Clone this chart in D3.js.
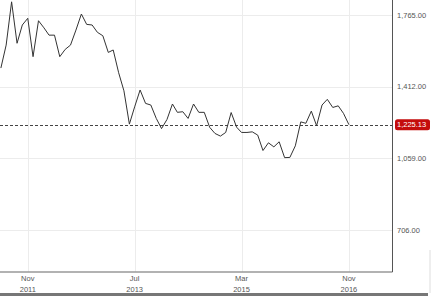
<!DOCTYPE html>
<html>
<head>
<meta charset="utf-8">
<script src="https://cdn.jsdelivr.net/npm/d3@7"></script>
<style>
body { margin:0; background:#fff; }
svg { display:block; }
text { font-family: "Liberation Sans", Arial, sans-serif; }
</style>
</head>
<body>
<div id="chart"></div>
<script>
var parseMonth = d3.timeParse("%Y-%m");

var months = ["2011-06","2011-07","2011-08","2011-09","2011-10","2011-11","2011-12",
              "2012-01","2012-02","2012-03","2012-04","2012-05","2012-06","2012-07","2012-08","2012-09","2012-10","2012-11","2012-12",
              "2013-01","2013-02","2013-03","2013-04","2013-05","2013-06","2013-07","2013-08","2013-09","2013-10","2013-11","2013-12",
              "2014-01","2014-02","2014-03","2014-04","2014-05","2014-06","2014-07","2014-08","2014-09","2014-10","2014-11","2014-12",
              "2015-01","2015-02","2015-03","2015-04","2015-05","2015-06","2015-07","2015-08","2015-09","2015-10","2015-11","2015-12",
              "2016-01","2016-02","2016-03","2016-04","2016-05","2016-06","2016-07","2016-08","2016-09","2016-10","2016-11"];

var closes = [1504,1617,1830,1626,1716,1749,1560,
              1737,1702,1666,1666,1560,1596,1617,1691,1770,1719,1716,1680,
              1663,1581,1593,1481,1392,1228,1313,1396,1330,1322,1256,1206,
              1251,1327,1286,1289,1256,1327,1286,1286,1212,1182,1169,1187,
              1285,1213,1187,1187,1190,1174,1098,1136,1116,1141,1063,1064,
              1121,1239,1232,1292,1220,1322,1350,1310,1318,1281,1225.13];

var lastValue = 1225.13;

var yTicks = [706, 1059, 1412, 1765];
var xTicks = ["2011-11","2013-07","2015-03","2016-11"];

var totalW = 431, totalH = 297;
var plotW = 392, plotH = 272;

var svg = d3.select("#chart").append("svg").attr("width", totalW).attr("height", totalH);

var x = d3.scaleTime().domain([new Date(2011, 4, 27), new Date(2017, 6, 4)]).range([0, plotW]);
var y = d3.scaleLinear().domain([500, 1839]).range([plotH, 0]);

var data = months.map(function(m, i){ return {date: parseMonth(m), value: closes[i]}; });

// grid
svg.append("g").selectAll("line").data(yTicks).enter().append("line")
    .attr("x1", 0).attr("x2", plotW)
    .attr("y1", function(d){ return Math.round(y(d)) + 0.5; })
    .attr("y2", function(d){ return Math.round(y(d)) + 0.5; })
    .attr("stroke", "#ececec").attr("stroke-width", 1);

svg.append("g").selectAll("line").data(xTicks).enter().append("line")
    .attr("x1", function(d){ return Math.round(x(parseMonth(d))) + 0.5; })
    .attr("x2", function(d){ return Math.round(x(parseMonth(d))) + 0.5; })
    .attr("y1", 0).attr("y2", plotH)
    .attr("stroke", "#ececec").attr("stroke-width", 1);

// last value dashed line
svg.append("line")
    .attr("x1", 0).attr("x2", plotW)
    .attr("y1", Math.round(y(lastValue)) + 0.5).attr("y2", Math.round(y(lastValue)) + 0.5)
    .attr("stroke", "#444").attr("stroke-width", 1).attr("stroke-dasharray", "3,2");

// price line
var line = d3.line().x(function(d){ return x(d.date); }).y(function(d){ return y(d.value); });

svg.append("path").attr("d", line(data))
    .attr("fill", "none").attr("stroke", "#333").attr("stroke-width", 1);

// frame
svg.append("line").attr("x1", 0).attr("x2", plotW + 0.5).attr("y1", plotH).attr("y2", plotH)
    .attr("stroke", "#999").attr("stroke-width", 1.5);
svg.append("line").attr("x1", plotW + 0.5).attr("x2", plotW + 0.5).attr("y1", 0).attr("y2", plotH)
    .attr("stroke", "#555").attr("stroke-width", 1);

// right axis labels
var fmt = d3.format(",.2f");
svg.append("g").selectAll("text").data(yTicks).enter().append("text")
    .attr("x", plotW + 5).attr("y", function(d){ return y(d); })
    .attr("dy", "0.35em")
    .attr("font-size", "7.5px").attr("fill", "#555")
    .text(function(d){ return fmt(d); });

// bottom labels
var monthFmt = d3.timeFormat("%b"), yearFmt = d3.timeFormat("%Y");
var xl = svg.append("g").selectAll("g").data(xTicks).enter().append("g")
    .attr("transform", function(d){ return "translate(" + x(parseMonth(d)) + ",0)"; });
xl.append("text").attr("y", 281).attr("text-anchor", "middle")
    .attr("font-size", "7.5px").attr("fill", "#555")
    .text(function(d){ return monthFmt(parseMonth(d)); });
xl.append("text").attr("y", 292).attr("text-anchor", "middle")
    .attr("font-size", "7.5px").attr("fill", "#555")
    .text(function(d){ return yearFmt(parseMonth(d)); });

// last value tag
var tagY = y(lastValue);
svg.append("rect").attr("x", plotW + 3).attr("y", tagY - 5.5).attr("width", 35).attr("height", 11)
    .attr("rx", 2.5).attr("fill", "#c40c0c");
svg.append("text").attr("x", plotW + 5).attr("y", tagY).attr("dy", "0.35em")
    .attr("font-size", "7.5px").attr("fill", "#fff")
    .text(fmt(lastValue));

// bottom shadow
svg.append("line").attr("x1", 0).attr("x2", totalW - 3).attr("y1", totalH - 2.5).attr("y2", totalH - 2.5)
    .attr("stroke", "#777").attr("stroke-width", 3);
svg.append("line").attr("x1", totalW - 1).attr("x2", totalW - 1).attr("y1", 250).attr("y2", totalH - 4)
    .attr("stroke", "#ddd").attr("stroke-width", 1);
</script>
</body>
</html>
